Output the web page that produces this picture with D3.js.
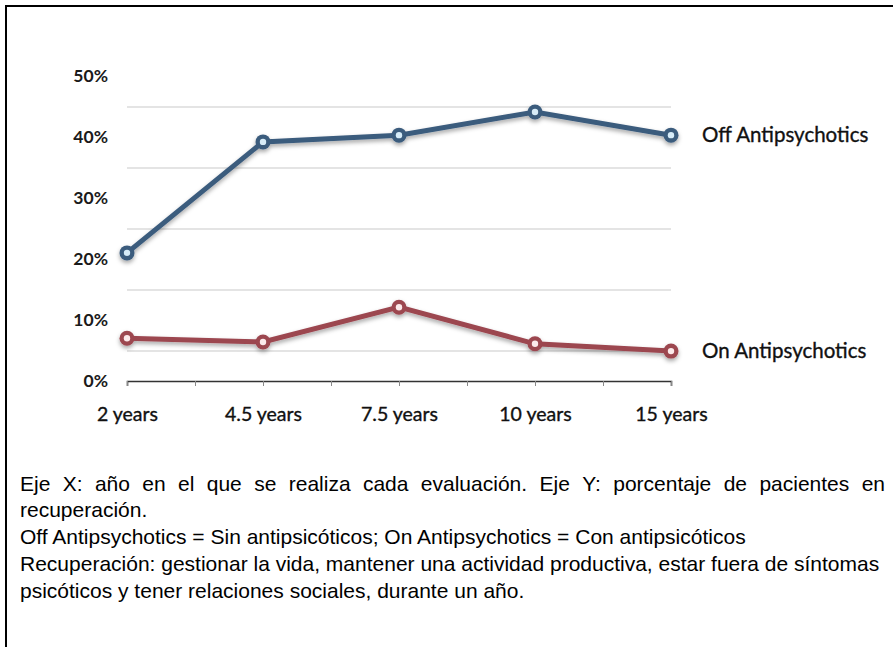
<!DOCTYPE html>
<html>
<head>
<meta charset="utf-8">
<script src="https://cdnjs.cloudflare.com/ajax/libs/d3/7.8.5/d3.min.js"></script>
<style>
  body { margin: 0; background: #fff; }
  svg { display: block; }
</style>
</head>
<body>
<div id="chart"></div>
<script>
// data
var years = ["2 years", "4.5 years", "7.5 years", "10 years", "15 years"];
var offAnti = [21, 39.2, 40.3, 44.1, 40.3];
var onAnti = [7, 6.4, 12.1, 6.1, 4.9];
var seriesNames = ["Off Antipsychotics", "On Antipsychotics"];
var yTicks = [0, 10, 20, 30, 40, 50];
var gridTicks = [5, 15, 25, 35, 45];
var caption = [
  "Eje X: año en el que se realiza cada evaluación. Eje Y: porcentaje de pacientes en",
  "recuperación.",
  "Off Antipsychotics = Sin antipsicóticos; On Antipsychotics = Con antipsicóticos",
  "Recuperación: gestionar la vida, mantener una actividad productiva, estar fuera de síntomas",
  "psicóticos y tener relaciones sociales, durante un año."
];

var W = 893, H = 647;
var chartFont = "Lato, 'Open Sans', sans-serif";
var svg = d3.select("#chart").append("svg")
    .attr("width", W)
    .attr("height", H);

// frame, only top and left are visible
svg.append("path")
    .attr("d", "M6,647 V6 H893")
    .attr("fill", "none")
    .attr("stroke", "#000")
    .attr("stroke-width", 2);

var defs = svg.append("defs");
var f = defs.append("filter").attr("id", "shadow")
    .attr("x", "-10%").attr("y", "-30%").attr("width", "120%").attr("height", "160%");
f.append("feDropShadow")
    .attr("dx", 0).attr("dy", 2.5)
    .attr("stdDeviation", 2)
    .attr("flood-color", "#000")
    .attr("flood-opacity", 0.35);

// scales
var xIdx = d3.scaleLinear().domain([0, years.length - 1]).range([127, 671]);
var y = d3.scaleLinear().domain([0, 50]).range([381, 76]);

// grid lines
var grid = svg.append("g")
    .attr("transform", "translate(127,0)")
    .call(d3.axisLeft(y).tickValues(gridTicks).tickSize(-544).tickFormat(""));
grid.select(".domain").remove();
grid.selectAll("line").attr("stroke", "#c9c9c9").attr("stroke-width", 1.2);

// y labels
var yAx = svg.append("g")
    .attr("transform", "translate(108,0)")
    .call(d3.axisLeft(y).tickValues(yTicks).tickSize(0).tickPadding(0)
      .tickFormat(d => d + "%"));
yAx.select(".domain").remove();
yAx.selectAll("text")
    .attr("font-family", chartFont)
    .attr("font-weight", "bold")
    .attr("font-size", "17.5px")
    .attr("fill", "#1a1a1a");

// x axis, ticks at points and half-way between
var halfTicks = d3.range(0, years.length - 0.5, 0.5);
var xAx = svg.append("g")
    .attr("transform", "translate(0,381)")
    .call(d3.axisBottom(xIdx).tickValues(halfTicks).tickSize(5).tickPadding(21)
      .tickFormat(d => Number.isInteger(d) ? years[d] : ""));
xAx.select(".domain").attr("stroke", "#333").attr("stroke-width", 1.6);
xAx.selectAll("line").attr("stroke", "#888");
xAx.selectAll("text")
    .attr("font-family", chartFont)
    .attr("font-size", "19.5px")
    .attr("fill", "#111")
    .attr("stroke", "#111")
    .attr("stroke-width", 0.35);

// series
var series = [
  { name: seriesNames[0], vals: offAnti, color: "#3b5b7d", inner: "#d7ecf8" },
  { name: seriesNames[1], vals: onAnti, color: "#9c4650", inner: "#fbe9ea" }
];

var line = d3.line()
    .x((d, i) => xIdx(i))
    .y(d => y(d));

series.forEach(function(s) {
  var g = svg.append("g").attr("filter", "url(#shadow)");
  g.append("path")
      .attr("d", line(s.vals))
      .attr("fill", "none")
      .attr("stroke", s.color)
      .attr("stroke-width", 5);
  g.selectAll("circle.o")
      .data(s.vals)
      .enter().append("circle")
      .attr("cx", (d, i) => xIdx(i))
      .attr("cy", d => y(d))
      .attr("r", 7.5)
      .attr("fill", s.color);
  svg.selectAll(null)
      .data(s.vals)
      .enter().append("circle")
      .attr("cx", (d, i) => xIdx(i))
      .attr("cy", d => y(d))
      .attr("r", 3.2)
      .attr("fill", s.inner);

  var last = s.vals[s.vals.length - 1];
  svg.append("text")
      .attr("x", 702)
      .attr("y", y(last))
      .attr("dy", "0.35em")
      .attr("font-family", chartFont)
      .attr("font-size", "20.5px")
      .attr("fill", "#111")
      .attr("stroke", "#111")
      .attr("stroke-width", 0.35)
      .text(s.name);
});

// caption, first line justified by hand
var capFont = "'Liberation Sans', Arial, sans-serif";
var capSize = "21px";
var capY = [491, 517, 544, 571, 598];
var left = 20, right = 885;
caption.forEach(function(t, i) {
  if (i === 0) {
    var words = t.split(" ");
    var tmp = svg.append("g");
    var widths = words.map(w => {
      var n = tmp.append("text").attr("font-family", capFont).attr("font-size", capSize).text(w);
      return n.node().getComputedTextLength();
    });
    tmp.remove();
    var gap = (right - left - d3.sum(widths)) / (words.length - 1);
    var x = left;
    words.forEach(function(w, k) {
      svg.append("text")
          .attr("x", x).attr("y", capY[i])
          .attr("font-family", capFont).attr("font-size", capSize)
          .attr("fill", "#000")
          .text(w);
      x += widths[k] + gap;
    });
  } else {
    svg.append("text")
        .attr("x", left).attr("y", capY[i])
        .attr("font-family", capFont).attr("font-size", capSize)
        .attr("fill", "#000")
        .text(t);
  }
});
</script>
</body>
</html>
